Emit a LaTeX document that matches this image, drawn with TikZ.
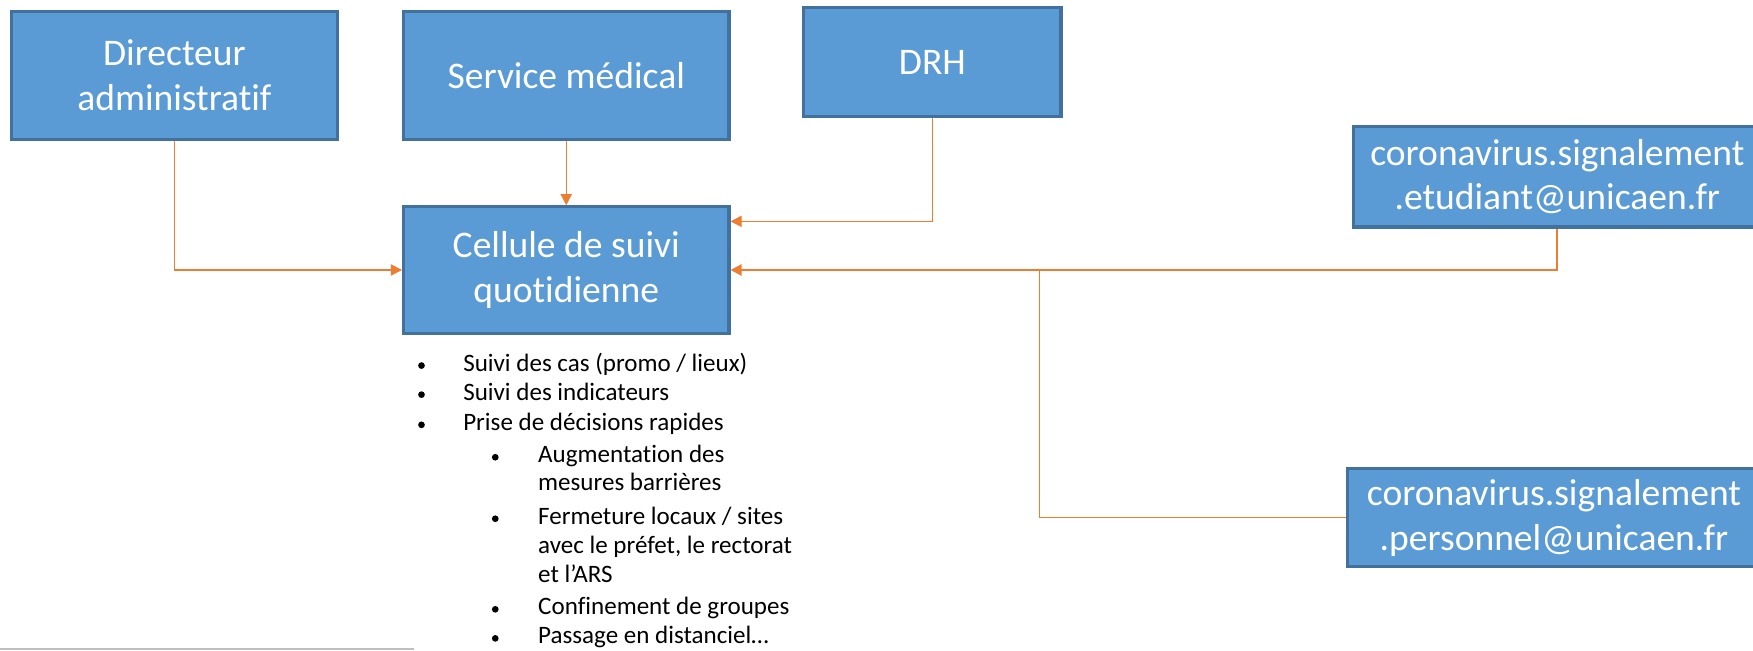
\documentclass[tikz,border=0pt]{standalone}
\usepackage{fontspec}
\setmainfont{Carlito}[Ligatures=NoCommon]
\usetikzlibrary{arrows.meta,calc}
\definecolor{boxfill}{HTML}{5B9BD5}
\definecolor{boxline}{HTML}{41719C}
\definecolor{conn}{HTML}{ED7D31}
\tikzset{
  orgbox/.style={draw=boxline, fill=boxfill, line width=1.4pt, text=white,
    inner sep=0pt, align=center, font=\fontsize{16.8}{20}\selectfont},
  link/.style={draw=conn, line width=0.6pt, -{Triangle[length=5pt,width=5pt]}},
  plain/.style={draw=conn, line width=0.6pt},
  bul/.style={anchor=west, inner sep=0pt, text height=0.75em, text depth=0.25em,
    font=\fontsize{11.2}{13.3}\selectfont},
  dot/.style={circle, fill=black, inner sep=0pt, minimum size=3pt},
}
\begin{document}
\begin{tikzpicture}[x=0.5pt,y=-0.5pt]
\useasboundingbox (0,0) rectangle (1568,582);
% boxes
\node[orgbox, minimum width=146pt, minimum height=57.5pt] (dir) at (156,67.5) {Directeur\\administratif};
\node[orgbox, minimum width=145.5pt, minimum height=57.5pt] (svc) at (506.5,67.5) {Service médical};
\node[orgbox, minimum width=115pt, minimum height=48.5pt] (drh) at (834,55.5) {DRH};
\node[orgbox, minimum width=145.5pt, minimum height=56.5pt] (cel) at (506.5,241.5) {Cellule de suivi\\quotidienne};
\node[orgbox, minimum width=182pt, minimum height=45pt] (etu) at (1393,158) {coronavirus.signalement\\.etudiant@unicaen.fr};
\node[orgbox, minimum width=185pt, minimum height=44pt] (per) at (1390,463) {coronavirus.signalement\\.personnel@unicaen.fr};
% connectors
\coordinate (j) at (930,241.5);
\draw[link] (dir.south) |- (cel.west);
\draw[link] (svc.south) -- (cel.north);
\draw[link] (drh.south) |- ($(cel.east)+(0,-43.5)$);
\draw[link, line width=1pt] (etu.south) |- (cel.east);
\draw[plain] (per.west) -| (j);
% bullet list
\node[dot] (b1) at (377,327) {};
\node[bul] (t1) at (414,327) {Suivi des cas (promo / lieux)};
\node[dot] (b2) at (377,353) {};
\node[bul] (t2) at (414,353) {Suivi des indicateurs};
\node[dot] (b3) at (377,380) {};
\node[bul] (t3) at (414,380) {Prise de décisions rapides};
\node[dot] (s1) at (443,409) {};
\node[bul] (u1a) at (481,409) {Augmentation des};
\node[bul] (u1b) at (481,434) {mesures barrières};
\node[dot] (s2) at (443,464) {};
\node[bul] (u2a) at (481,464) {Fermeture locaux / sites};
\node[bul] (u2b) at (481,490) {avec le préfet, le rectorat};
\node[bul] (u2c) at (481,516) {et l’ARS};
\node[dot] (s3) at (443,545) {};
\node[bul] (u3) at (481,545) {Confinement de groupes};
\node[dot] (s4) at (443,571) {};
\node[bul] (u4) at (481,571) {Passage en distanciel…};
% grey rule at bottom left
\coordinate (g1) at (0,580.5);
\coordinate (g2) at (370,580.5);
\draw[gray!50, line width=0.6pt] (g1) -- (g2);
\end{tikzpicture}
\end{document}
